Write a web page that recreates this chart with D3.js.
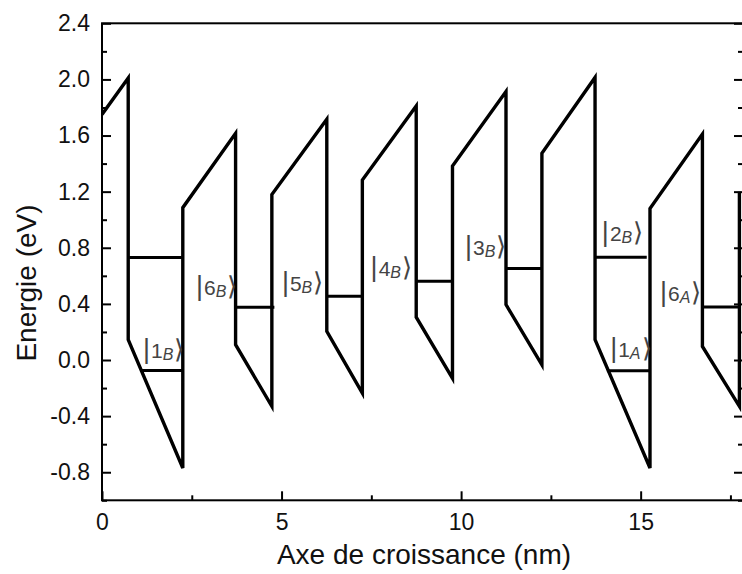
<!DOCTYPE html>
<html><head><meta charset="utf-8">
<script src="https://cdn.jsdelivr.net/npm/d3@7"></script>
<style>body{margin:0;background:#fff}</style>
</head><body>
<svg id="c" width="742" height="574"></svg>
<script>
// ---- data ----
const xTicks = [0, 5, 10, 15];
const xMinorTicks = [2.5, 7.5, 12.5, 17.5];
const yTicks = [-0.8, -0.4, 0.0, 0.4, 0.8, 1.2, 1.6, 2.0, 2.4];
const yMinorTicks = [-1.0, -0.6, -0.2, 0.2, 0.6, 1.0, 1.4, 1.8, 2.2];
const yTickLabels = ["-0.8", "-0.4", "0.0", "0.4", "0.8", "1.2", "1.6", "2.0", "2.4"];

// conduction band profile (nm, eV)
const profileX = [0, 0.73, 0.73, 2.25, 2.25, 3.72, 3.72, 4.73, 4.73, 6.26, 6.26, 7.25, 7.25, 8.75, 8.75, 9.76, 9.76, 11.25, 11.25, 12.25, 12.25, 13.73, 13.73, 15.26, 15.26, 16.72, 16.72, 17.75, 17.75];
const profileE = [1.75, 2.01, 0.145, -0.77, 1.086, 1.616, 0.109, -0.33, 1.18, 1.716, 0.204, -0.236, 1.283, 1.81, 0.305, -0.13, 1.383, 1.914, 0.395, -0.034, 1.474, 2.014, 0.145, -0.77, 1.08, 1.61, 0.097, -0.33, 1.2];

// energy levels
const levelX1 = [0.73, 1.10, 3.72, 6.26, 8.75, 11.25, 13.73, 14.06, 16.72];
const levelX2 = [2.25, 2.25, 4.80, 7.25, 9.76, 12.25, 15.17, 15.26, 17.75];
const levelE  = [0.73, -0.074, 0.376, 0.454, 0.561, 0.652, 0.733, -0.076, 0.378];

// state labels
const labelNum = ["1", "6", "5", "4", "3", "2", "6", "1"];
const labelSub = ["B", "B", "B", "B", "B", "B", "A", "A"];
const labelX = [1.14, 2.62, 5.01, 7.48, 10.11, 13.92, 15.54, 14.15];
const labelE = [0.016, 0.466, 0.495, 0.60, 0.752, 0.847, 0.419, 0.024];

// ---- chart ----
const svg = d3.select("#c");
const L = 102, R = 743, T = 23.3, B = 500.3;
const x = d3.scaleLinear().domain([0, 17.85]).range([L, R]);
const y = d3.scaleLinear().domain([-1.0, 2.4]).range([B, T]);
const font = "'Liberation Sans', Arial, sans-serif";

svg.append("defs").append("clipPath").attr("id", "clip")
  .append("rect").attr("x", L).attr("y", T).attr("width", R - L).attr("height", B - T);

// axes
function styleAxis(g) {
  g.select(".domain").remove();
  g.selectAll(".tick line").attr("stroke", "#000").attr("stroke-width", 2);
  g.selectAll("text").attr("font-family", font).attr("font-size", 23).attr("fill", "#111");
}
svg.append("g").attr("transform", `translate(0,${B})`)
  .call(d3.axisBottom(x).tickValues(xTicks).tickSize(-9).tickPadding(13).tickFormat(d3.format("d")))
  .call(styleAxis);
svg.append("g").attr("transform", `translate(0,${B})`)
  .call(d3.axisBottom(x).tickValues(xMinorTicks).tickSize(-5).tickFormat(""))
  .call(styleAxis);
svg.append("g").attr("transform", `translate(${L},0)`)
  .call(d3.axisLeft(y).tickValues(yTicks).tickSize(-9).tickPadding(12).tickFormat((d, i) => yTickLabels[i]))
  .call(styleAxis);
svg.append("g").attr("transform", `translate(${L},0)`)
  .call(d3.axisLeft(y).tickValues(yMinorTicks).tickSize(-5).tickFormat(""))
  .call(styleAxis);
svg.append("g").attr("transform", `translate(${R},0)`)
  .call(d3.axisRight(y).tickValues(yTicks).tickSize(-9).tickFormat(""))
  .call(styleAxis);
svg.append("g").attr("transform", `translate(${R},0)`)
  .call(d3.axisRight(y).tickValues(yMinorTicks).tickSize(-5).tickFormat(""))
  .call(styleAxis);

// frame
svg.append("rect").attr("x", L).attr("y", T).attr("width", R - L).attr("height", B - T)
  .attr("fill", "none").attr("stroke", "#000").attr("stroke-width", 2);

// profile
const pts = profileX.map((d, i) => [d, profileE[i]]);
svg.append("path").datum(pts)
  .attr("clip-path", "url(#clip)")
  .attr("d", d3.line().x(d => x(d[0])).y(d => y(d[1])))
  .attr("fill", "none").attr("stroke", "#000").attr("stroke-width", 3.4);

// levels
svg.append("g").selectAll("line").data(levelE).join("line")
  .attr("x1", (d, i) => x(levelX1[i])).attr("x2", (d, i) => x(levelX2[i]))
  .attr("y1", d => y(d)).attr("y2", d => y(d))
  .attr("stroke", "#000").attr("stroke-width", 3);

// labels
const lab = svg.append("g").selectAll("text").data(labelNum).join("text")
  .attr("x", (d, i) => x(labelX[i])).attr("y", (d, i) => y(labelE[i]))
  .attr("font-family", font).attr("fill", "#444");
lab.append("tspan").attr("font-size", 27).text("|");
lab.append("tspan").attr("font-size", 21).attr("dx", 1).text(d => d);
lab.append("tspan").attr("font-size", 16).attr("font-style", "italic").attr("dy", 2).text((d, i) => labelSub[i]);
lab.append("tspan").attr("font-size", 26).attr("dy", -2).attr("dx", 1)
  .attr("font-family", "'DejaVu Sans', sans-serif").attr("font-weight", 200).text("\u27E9");

// axis titles
svg.append("text").attr("x", 424).attr("y", 564)
  .attr("text-anchor", "middle").attr("font-family", font).attr("font-size", 28).attr("fill", "#111")
  .text("Axe de croissance (nm)");
svg.append("text").attr("transform", `translate(36,283) rotate(-90)`)
  .attr("text-anchor", "middle").attr("font-family", font).attr("font-size", 28).attr("fill", "#111")
  .text("Energie (eV)");
</script>
</body></html>
